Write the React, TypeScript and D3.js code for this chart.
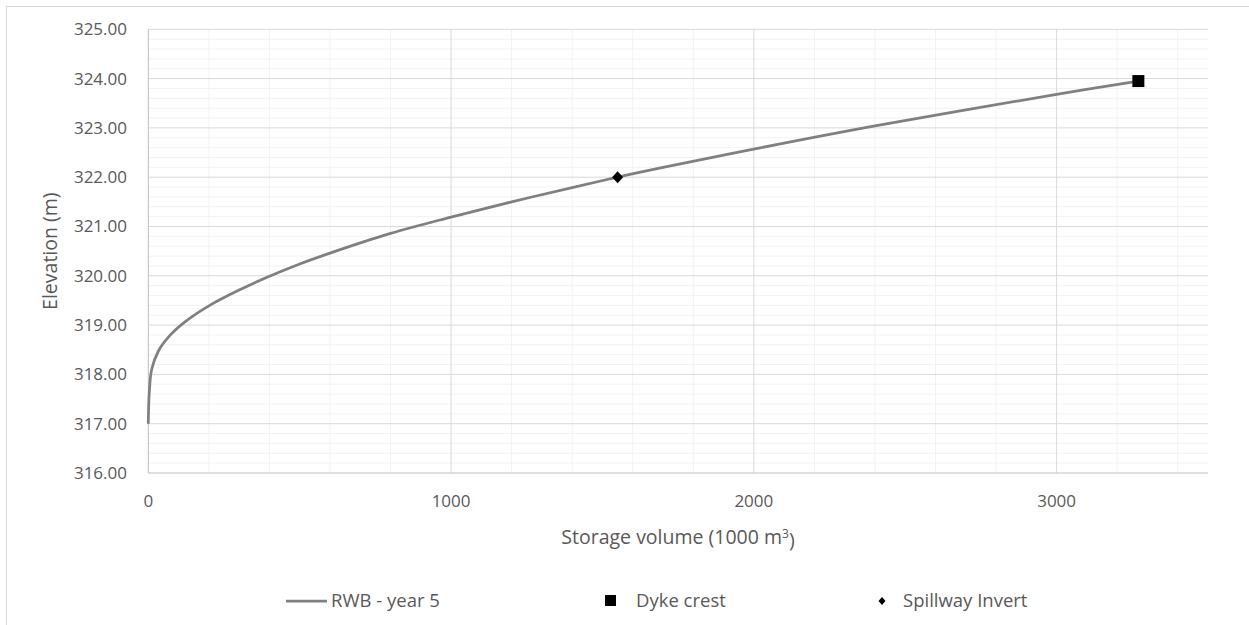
import React from "react";
import * as d3 from "d3";

// Storage–elevation curve for the reservoir (volume in 1000 m³, elevation in m)
const curveVolume = [0, 1, 3, 11, 33, 70, 120, 200, 300, 400, 500, 600, 800, 1000, 1200, 1400, 1550, 1700, 2000, 2400, 3000, 3270];
const curveElevation = [317.0, 317.3, 317.6, 318.1, 318.47, 318.78, 319.06, 319.39, 319.71, 319.99, 320.24, 320.46, 320.86, 321.19, 321.5, 321.79, 322.0, 322.2, 322.57, 323.04, 323.68, 323.95];

// Reference levels
const dykeCrest = { volume: 3270, elevation: 323.95 };
const spillwayInvert = { volume: 1550, elevation: 322.0 };

const xTicks = [0, 1000, 2000, 3000];
const yTicks = [316, 317, 318, 319, 320, 321, 322, 323, 324, 325];
const legendLabels = ["RWB - year 5", "Dyke crest", "Spillway Invert"];

const W = 1249;
const H = 625;
const plot = { left: 148.3, right: 1208, top: 29.3, bottom: 473 };
const FONT = "'Open Sans', 'Noto Sans', sans-serif";
const TEXT = "#595959";

export default function App() {
  const x = d3.scaleLinear().domain([0, 3500]).range([plot.left, plot.right]);
  const y = d3.scaleLinear().domain([316, 325]).range([plot.bottom, plot.top]);

  const minorX = d3.range(200, 3500, 200).filter((v) => v % 1000 !== 0);
  const minorY = d3.range(316.2, 325, 0.2).filter((v) => Math.abs(v - Math.round(v)) > 0.01);

  const points: [number, number][] = curveVolume.map((v, i) => [v, curveElevation[i]]);
  const line = d3
    .line<[number, number]>()
    .x((d) => x(d[0]))
    .y((d) => y(d[1]))
    .curve(d3.curveCatmullRom.alpha(0.5));

  const diamond = (cx: number, cy: number, w: number, h: number) =>
    `M${cx},${cy - h / 2}L${cx + w / 2},${cy}L${cx},${cy + h / 2}L${cx - w / 2},${cy}Z`;

  const legendY = 601;

  return (
    <svg
      width={W}
      height={H}
      style={{ position: "absolute", left: 0, top: 0, display: "block", background: "#fff" }}
      fontFamily={FONT}
    >
      {/* chart area border */}
      <rect x={6.5} y={6.5} width={1300} height={700} fill="#fff" stroke="#d9d9d9" strokeWidth={1} />

      {/* minor gridlines */}
      <g stroke="#f2f2f2" strokeWidth={1}>
        {minorY.map((v) => (
          <line key={"my" + v} x1={plot.left} x2={plot.right} y1={y(v)} y2={y(v)} />
        ))}
        {minorX.map((v) => (
          <line key={"mx" + v} x1={x(v)} x2={x(v)} y1={plot.top} y2={plot.bottom} />
        ))}
      </g>

      {/* major gridlines */}
      <g stroke="#d9d9d9" strokeWidth={1}>
        {yTicks.slice(1).map((v) => (
          <line key={"gy" + v} x1={plot.left} x2={plot.right} y1={y(v)} y2={y(v)} />
        ))}
        {xTicks.slice(1).map((v) => (
          <line key={"gx" + v} x1={x(v)} x2={x(v)} y1={plot.top} y2={plot.bottom} />
        ))}
      </g>

      {/* axis lines */}
      <g stroke="#bfbfbf" strokeWidth={1}>
        <line x1={plot.left} x2={plot.right} y1={y(316)} y2={y(316)} />
        <line x1={plot.left} x2={plot.left} y1={plot.top} y2={plot.bottom} />
      </g>

      {/* y tick labels */}
      <g fill={TEXT} fontSize={17} textAnchor="end">
        {yTicks.map((v) => (
          <text key={"ty" + v} x={127} y={y(v)} dy="0.35em">
            {v.toFixed(2)}
          </text>
        ))}
      </g>

      {/* x tick labels */}
      <g fill={TEXT} fontSize={17} textAnchor="middle">
        {xTicks.map((v) => (
          <text key={"tx" + v} x={x(v)} y={501} dy="0.35em">
            {v}
          </text>
        ))}
      </g>

      {/* axis titles */}
      <text x={678} y={537} dy="0.35em" textAnchor="middle" fill={TEXT} fontSize={19.5}>
        Storage volume  (1000  m<tspan dy="-0.45em" fontSize={12}>3</tspan>
        <tspan dy="0.45em">)</tspan>
      </text>
      <text
        transform={`translate(50,${(plot.top + plot.bottom) / 2}) rotate(-90)`}
        textAnchor="middle"
        dy="0.35em"
        fill={TEXT}
        fontSize={19.5}
      >
        Elevation  (m)
      </text>

      {/* storage curve */}
      <path d={line(points) ?? ""} fill="none" stroke="#808080" strokeWidth={2.75} strokeLinejoin="round" />

      {/* markers */}
      <rect
        x={x(dykeCrest.volume) - 6}
        y={y(dykeCrest.elevation) - 6}
        width={12}
        height={12}
        fill="#000"
      />
      <path d={diamond(x(spillwayInvert.volume), y(spillwayInvert.elevation), 11, 12)} fill="#000" />

      {/* legend */}
      <g fill={TEXT} fontSize={18.5}>
        <line x1={286} x2={327} y1={legendY} y2={legendY} stroke="#808080" strokeWidth={2.75} />
        <text x={331} y={legendY} dy="0.35em">{legendLabels[0]}</text>
        <rect x={605} y={legendY - 6} width={11} height={11} fill="#000" />
        <text x={636} y={legendY} dy="0.35em">{legendLabels[1]}</text>
        <path d={diamond(882, legendY, 7, 8)} fill="#000" />
        <text x={903} y={legendY} dy="0.35em">{legendLabels[2]}</text>
      </g>
    </svg>
  );
}
